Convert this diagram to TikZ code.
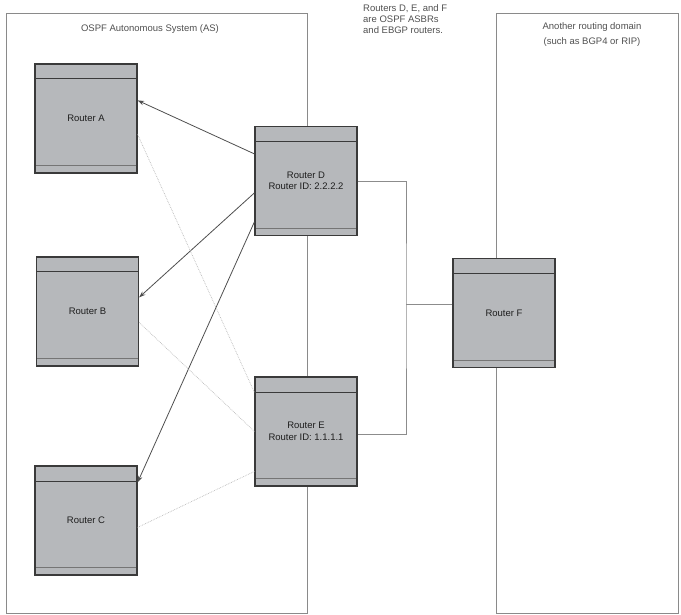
\documentclass[tikz,border=0pt]{standalone}
\usepackage{fontspec}
\setmainfont{Liberation Sans}
\usetikzlibrary{arrows.meta,calc}
\definecolor{rfill}{HTML}{B6B8BB}
\definecolor{rdraw}{HTML}{3A3A3A}
\definecolor{boxline}{HTML}{8A8A8A}
\definecolor{txt}{HTML}{1E1E1E}
\definecolor{note}{HTML}{505050}
\tikzset{
  router/.style={rectangle, fill=rfill, draw=rdraw, line width=1.2pt,
    minimum width=102pt, minimum height=109pt, inner sep=0pt, align=center,
    text=txt, font=\fontsize{9.5}{11.5}\selectfont,
    path picture={
      \draw[rdraw, line width=1pt] ([yshift=-15pt]path picture bounding box.north west) -- ([yshift=-15pt]path picture bounding box.north east);
      \draw[rdraw!70, line width=0.8pt] ([yshift=7.5pt]path picture bounding box.south west) -- ([yshift=7.5pt]path picture bounding box.south east);
    }},
  area/.style={draw=boxline, line width=0.9pt},
  label/.style={font=\fontsize{9.5}{11}\selectfont, text=note, inner sep=0pt},
  adv/.style={draw=rdraw!90, line width=0.8pt, -{Stealth[length=6.5pt,width=4.5pt]}},
  dotlink/.style={draw=gray!55, line width=0.7pt, densely dotted},
  wire/.style={draw=gray!90, line width=0.7pt}
}
\begin{document}
\begin{tikzpicture}[x=1pt,y=-1pt]
\useasboundingbox (0,0) rectangle (681,615);
% areas
\draw[area] (6,13) rectangle (307,613);
\draw[area] (496,13) rectangle (678,613);
\node[label] (aslabel) at (150,29) {OSPF Autonomous System (AS)};
\node[label, align=center, font=\fontsize{9.5}{15}\selectfont] (domlabel) at (592,34.5) {Another routing domain\\(such as BGP4 or RIP)};
\node[label, anchor=north west, align=left] (notelabel) at (363,4) {Routers D, E, and F\\are OSPF ASBRs\\and EBGP routers.};
% routers
\node[router] (A) at (86,118.5) {Router A};
\node[router] (B) at (87.5,311.5) {Router B};
\node[router] (C) at (86,520.5) {Router C};
\node[router] (D) at (306,181) {Router D\\Router ID: 2.2.2.2};
\node[router] (E) at (306,431.5) {Router E\\Router ID: 1.1.1.1};
\node[router] (F) at (504,313) {Router F};
% wires to F
\coordinate (j) at (406,304);
\draw[wire] ([yshift=-55pt]D.north east) -| (j) |- ([yshift=-58pt]E.north east);
\draw[wire] (j) -- (j -| F.west);
% advertisement arrows
\draw[adv] ([yshift=-28pt]D.north west) -- ([yshift=-37pt]A.north east);
\draw[adv] ([yshift=-67pt]D.north west) -- ([yshift=-41pt]B.north east);
\draw[adv] ([yshift=-96pt]D.north west) -- ([yshift=-17pt]C.north east);
% dotted links
\draw[dotlink] ([yshift=-71pt]A.north east) -- ([yshift=-16pt]E.north west);
\draw[dotlink] ([yshift=-66pt]B.north east) -- ([yshift=-55pt]E.north west);
\draw[dotlink] ([yshift=-62pt]C.north east) -- ([yshift=-95pt]E.north west);
\end{tikzpicture}
\end{document}
